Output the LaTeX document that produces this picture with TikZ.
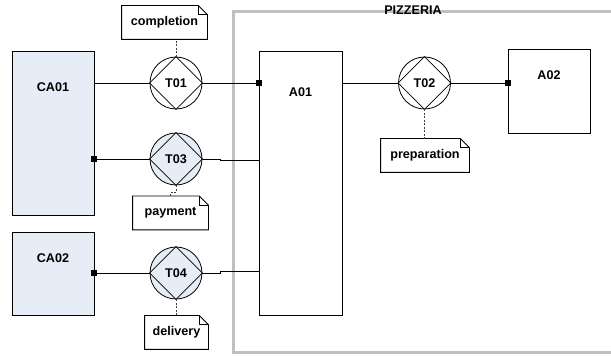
\documentclass[tikz,border=0pt]{standalone}
\usepackage{fontspec}
\setmainfont{Liberation Sans}
\usepackage{tikz}
\usetikzlibrary{calc}
\definecolor{actorblue}{RGB}{230,237,246}
\definecolor{framegray}{RGB}{192,192,192}

\begin{document}
\begin{tikzpicture}[x=1pt, y=1pt, line width=0.8pt,
	txt/.style={font=\fontsize{12.6}{15}\selectfont\bfseries},
	actor/.style={draw, fill=actorblue, minimum width=82, minimum height=#1, inner sep=0},
	unit/.style={draw, fill=white, minimum width=83, minimum height=#1, inner sep=0},
	trans/.style={draw, circle, minimum size=52, inner sep=0, txt},
	note/.style={minimum height=33, inner sep=0, txt},
	port/.style={fill=black, minimum size=6, inner sep=0},
	link/.style={dash pattern=on 2pt off 1.5pt, black!75}]
	\useasboundingbox (0,0) rectangle (611,356);
	\draw[framegray, line width=3] (611,344) -- (233,344) -- (233,3) -- (611,3);
	\node[txt] (PZ) at (413,346) {PIZZERIA};
	\node[actor=164] (CA01) at (53,223) {};
	\node[actor=83] (CA02) at (53,82.5) {};
	\node[unit=264] (A01) at (300.5,173) {};
	\node[unit=84, minimum width=82] (A02) at (549,265) {};
	\node[txt] (CA01t) at (53,269) {CA01};
	\node[txt] (CA02t) at (53,98) {CA02};
	\node[txt] (A01t) at (300.5,264) {A01};
	\node[txt] (A02t) at (549,281) {A02};
	\node[trans, fill=white] (T01) at (176,273) {};
	\node[trans, fill=actorblue] (T03) at (176,197) {};
	\node[trans, fill=actorblue] (T04) at (176,83) {};
	\node[trans, fill=white] (T02) at (424.5,273) {};
	\foreach \t in {T01, T02, T03, T04}
		\draw (\t.north) -- (\t.east) -- (\t.south) -- (\t.west) -- cycle
			node[txt] at (\t.center) {\t};
	\node[note, minimum width=85] (completion) at (164.5,333.5) {completion};
	\node[note, minimum width=75] (payment) at (170.5,143) {payment};
	\node[note, minimum width=63] (delivery) at (176.5,23.5) {delivery};
	\node[note, minimum width=88] (preparation) at (425,200.5) {preparation};
	\foreach \n in {completion, payment, delivery, preparation} {
		\draw[fill=white] (\n.south west) -- (\n.north west) -- ($(\n.north east) + (-9,0)$)
			-- ($(\n.north east) + (0,-9)$) -- (\n.south east) -- cycle;
		\draw ($(\n.north east) + (-9,0)$) -- ($(\n.north east) + (-9,-9)$) -- ($(\n.north east) + (0,-9)$);
		\node[txt] at (\n.center) {\n};
	}
	\draw[link] (T01.north) -- (T01.north |- completion.south);
	\draw[link] (T03.south) -- ++(0,-7) -| (payment.north);
	\draw[link] (T04.south) -- (T04.south |- delivery.north);
	\draw[link] (T02.south) -- (T02.south |- preparation.north);
	\draw (CA01.east |- T01) -- (T01.west);
	\draw (T01.east) -- (A01.west |- T01);
	\draw (A01.east |- T02) -- (T02.west);
	\draw (T02.east) -- (A02.west |- T02);
	\draw (CA01.east |- T03) -- (T03.west);
	\draw (T03.east) -- ++(18,0) -- ++(0,-1.5) -- ($(A01.west |- T03) + (0,-1.5)$);
	\draw (CA02.east |- T04) -- (T04.west);
	\draw (T04.east) -- ++(18,0) -- ++(0,1.5) -- ($(A01.west |- T04) + (0,1.5)$);
	\node[port] (pA01) at (A01.west |- T01) {};
	\node[port] (pA02) at (A02.west |- T02) {};
	\node[port] (pCA01) at (CA01.east |- T03) {};
	\node[port] (pCA02) at (CA02.east |- T04) {};
\end{tikzpicture}
\end{document}
